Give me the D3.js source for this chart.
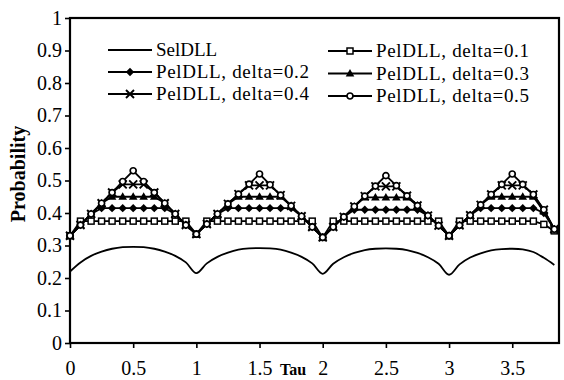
<!DOCTYPE html>
<html>
<head>
<meta charset="utf-8">
<script src="https://cdn.jsdelivr.net/npm/d3@7"></script>
<style>
  body { margin: 0; background: #fff; }
  svg text { font-family: "Liberation Serif", "Times New Roman", serif; fill: #000; }
</style>
</head>
<body>
<div id="chart"></div>
<script>
// ---------------------------------------
// data
const tau = [0, 0.083, 0.167, 0.25, 0.333, 0.417, 0.5, 0.583, 0.667, 0.75, 0.833, 0.917,
  1, 1.083, 1.167, 1.25, 1.333, 1.417, 1.5, 1.583, 1.667, 1.75, 1.833, 1.917,
  2, 2.083, 2.167, 2.25, 2.333, 2.417, 2.5, 2.583, 2.667, 2.75, 2.833, 2.917,
  3, 3.083, 3.167, 3.25, 3.333, 3.417, 3.5, 3.583, 3.667, 3.75, 3.833];

const selDLL = [0.22, 0.248, 0.268, 0.281, 0.29, 0.295, 0.296, 0.295, 0.29, 0.281, 0.268, 0.248,
  0.215, 0.245, 0.265, 0.278, 0.287, 0.291, 0.292, 0.291, 0.287, 0.278, 0.265, 0.245,
  0.213, 0.244, 0.264, 0.277, 0.286, 0.29, 0.291, 0.29, 0.286, 0.277, 0.264, 0.244,
  0.21, 0.242, 0.263, 0.276, 0.285, 0.289, 0.29, 0.288, 0.28, 0.262, 0.24];

const pel01 = [0.33, 0.375, 0.375, 0.375, 0.375, 0.375, 0.375, 0.375, 0.375, 0.375, 0.375, 0.375,
  0.335, 0.375, 0.375, 0.375, 0.375, 0.375, 0.375, 0.375, 0.375, 0.375, 0.375, 0.375,
  0.325, 0.375, 0.375, 0.375, 0.375, 0.375, 0.375, 0.375, 0.375, 0.375, 0.375, 0.375,
  0.33, 0.375, 0.375, 0.375, 0.375, 0.375, 0.375, 0.375, 0.375, 0.365, 0.345];

const pel02 = [0.33, 0.363, 0.397, 0.415, 0.415, 0.415, 0.415, 0.415, 0.415, 0.415, 0.397, 0.363,
  0.335, 0.366, 0.397, 0.415, 0.415, 0.415, 0.415, 0.415, 0.415, 0.415, 0.39, 0.357,
  0.325, 0.357, 0.388, 0.41, 0.41, 0.41, 0.41, 0.41, 0.41, 0.41, 0.392, 0.361,
  0.33, 0.362, 0.393, 0.415, 0.415, 0.415, 0.415, 0.415, 0.415, 0.4, 0.35];

const pel03 = [0.33, 0.363, 0.397, 0.43, 0.45, 0.45, 0.45, 0.45, 0.45, 0.43, 0.397, 0.363,
  0.335, 0.366, 0.397, 0.428, 0.45, 0.45, 0.45, 0.45, 0.45, 0.422, 0.39, 0.357,
  0.325, 0.357, 0.388, 0.42, 0.448, 0.448, 0.448, 0.448, 0.448, 0.423, 0.392, 0.361,
  0.33, 0.362, 0.393, 0.425, 0.45, 0.45, 0.45, 0.45, 0.45, 0.405, 0.35];

const pel04 = [0.33, 0.363, 0.397, 0.43, 0.463, 0.488, 0.488, 0.488, 0.463, 0.43, 0.397, 0.363,
  0.335, 0.366, 0.397, 0.428, 0.458, 0.485, 0.485, 0.485, 0.455, 0.422, 0.39, 0.357,
  0.325, 0.357, 0.388, 0.42, 0.452, 0.482, 0.482, 0.482, 0.453, 0.423, 0.392, 0.361,
  0.33, 0.362, 0.393, 0.425, 0.457, 0.485, 0.485, 0.485, 0.457, 0.41, 0.35];

const pel05 = [0.33, 0.363, 0.397, 0.43, 0.463, 0.497, 0.53, 0.497, 0.463, 0.43, 0.397, 0.363,
  0.335, 0.366, 0.397, 0.428, 0.458, 0.489, 0.52, 0.487, 0.455, 0.422, 0.39, 0.357,
  0.325, 0.357, 0.388, 0.42, 0.452, 0.483, 0.515, 0.484, 0.453, 0.423, 0.392, 0.361,
  0.33, 0.362, 0.393, 0.425, 0.457, 0.488, 0.52, 0.488, 0.457, 0.41, 0.35];

const seriesNames = ["SelDLL", "PelDLL, delta=0.1", "PelDLL, delta=0.2",
  "PelDLL, delta=0.3", "PelDLL, delta=0.4", "PelDLL, delta=0.5"];
const xTicks = [0, 0.5, 1, 1.5, 2, 2.5, 3, 3.5];
const yTicks = [0, 0.1, 0.2, 0.3, 0.4, 0.5, 0.6, 0.7, 0.8, 0.9, 1];

// ---------------------------------------
// svg params
const W = 564, H = 380;
const margin = {top: 18, right: 5, bottom: 37, left: 70};
const width = W - margin.left - margin.right;
const height = H - margin.top - margin.bottom;

const svg = d3.select("#chart").append("svg")
    .attr("width", W)
    .attr("height", H);
const g = svg.append("g")
    .attr("transform", "translate(" + margin.left + "," + margin.top + ")");

const x = d3.scaleLinear().domain([0, 3.87]).range([0, width]);
const y = d3.scaleLinear().domain([0, 1]).range([height, 0]);

// axes
const xAxis = g.append("g")
    .attr("transform", "translate(0," + height + ")")
    .call(d3.axisBottom(x).tickValues(xTicks).tickSize(5).tickPadding(13)
        .tickFormat(d3.format("~g")));
const yAxis = g.append("g")
    .call(d3.axisLeft(y).tickValues(yTicks).tickSize(5).tickPadding(3)
        .tickFormat(d3.format("~g")));
[xAxis, yAxis].forEach((a) => {
  a.select(".domain").remove();
  a.selectAll("line").attr("stroke", "#000").attr("stroke-width", 1.6);
  a.selectAll("text").style("font-size", "20px");
});

// frame
g.append("rect")
    .attr("width", width)
    .attr("height", height)
    .attr("fill", "none")
    .attr("stroke", "#000")
    .attr("stroke-width", 2.2);

// axis titles
g.append("text")
    .attr("x", 223)
    .attr("y", height + 32)
    .attr("text-anchor", "middle")
    .style("font-size", "16px")
    .style("font-weight", "bold")
    .text("Tau");
svg.append("text")
    .attr("transform", "translate(25,174) rotate(-90)")
    .attr("text-anchor", "middle")
    .style("font-size", "20px")
    .style("font-weight", "bold")
    .text("Probability");

// ---------------------------------------
// markers
const markers = {
  square: (sel) => sel.append("rect").attr("x", -3).attr("y", -3).attr("width", 6).attr("height", 6)
      .attr("fill", "#fff").attr("stroke", "#000").attr("stroke-width", 1.5),
  diamond: (sel) => sel.append("path").attr("d", "M0,-4.2L4.2,0L0,4.2L-4.2,0Z").attr("fill", "#000"),
  triangle: (sel) => sel.append("path").attr("d", "M0,-4.5L4.3,3L-4.3,3Z").attr("fill", "#000"),
  cross: (sel) => sel.append("path").attr("d", "M-4,-4L4,4M-4,4L4,-4")
      .attr("stroke", "#000").attr("stroke-width", 1.9),
  circle: (sel) => sel.append("circle").attr("r", 3)
      .attr("fill", "#fff").attr("stroke", "#000").attr("stroke-width", 1.7),
};

const pelSeries = [
  {name: seriesNames[1], values: pel01, marker: "square"},
  {name: seriesNames[2], values: pel02, marker: "diamond"},
  {name: seriesNames[3], values: pel03, marker: "triangle"},
  {name: seriesNames[4], values: pel04, marker: "cross"},
  {name: seriesNames[5], values: pel05, marker: "circle"},
];

const plot = g.append("g");

// SelDLL smooth curve
plot.append("path")
    .datum(selDLL.map((v, i) => [tau[i], v]))
    .attr("fill", "none")
    .attr("stroke", "#000")
    .attr("stroke-width", 1.8)
    .attr("d", d3.line().x((d) => x(d[0])).y((d) => y(d[1])).curve(d3.curveCatmullRom));

const line = d3.line().x((d) => x(d[0])).y((d) => y(d[1]));
pelSeries.forEach((s) => {
  const pts = s.values.map((v, i) => [tau[i], v]);
  plot.append("path")
      .datum(pts)
      .attr("fill", "none")
      .attr("stroke", "#000")
      .attr("stroke-width", 1.8)
      .attr("d", line);
  plot.selectAll(null)
      .data(pts)
      .enter()
      .append("g")
      .attr("transform", (d) => "translate(" + x(d[0]) + "," + y(d[1]) + ")")
      .each(function() { markers[s.marker](d3.select(this)); });
});

// ---------------------------------------
// legend, two columns
const legendItems = [
  {name: seriesNames[0], marker: null, lx: 108, ly: 50},
  {name: seriesNames[1], marker: "square", lx: 328, ly: 51},
  {name: seriesNames[2], marker: "diamond", lx: 108, ly: 72},
  {name: seriesNames[3], marker: "triangle", lx: 328, ly: 73.5},
  {name: seriesNames[4], marker: "cross", lx: 108, ly: 94},
  {name: seriesNames[5], marker: "circle", lx: 328, ly: 96},
];
const legend = svg.append("g")
    .selectAll("g")
    .data(legendItems)
    .enter()
    .append("g")
    .attr("transform", (d) => "translate(" + d.lx + "," + d.ly + ")");
legend.append("line")
    .attr("x1", 0).attr("x2", 44)
    .attr("stroke", "#000").attr("stroke-width", 1.8);
legend.each(function(d) {
  if (d.marker) {
    markers[d.marker](d3.select(this).append("g").attr("transform", "translate(22,0)"));
  }
});
legend.append("text")
    .attr("x", 48)
    .attr("y", 6)
    .style("font-size", "19px")
    .attr("textLength", (d) => d.marker ? 153 : null)
    .text((d) => d.name);
</script>
</body>
</html>
